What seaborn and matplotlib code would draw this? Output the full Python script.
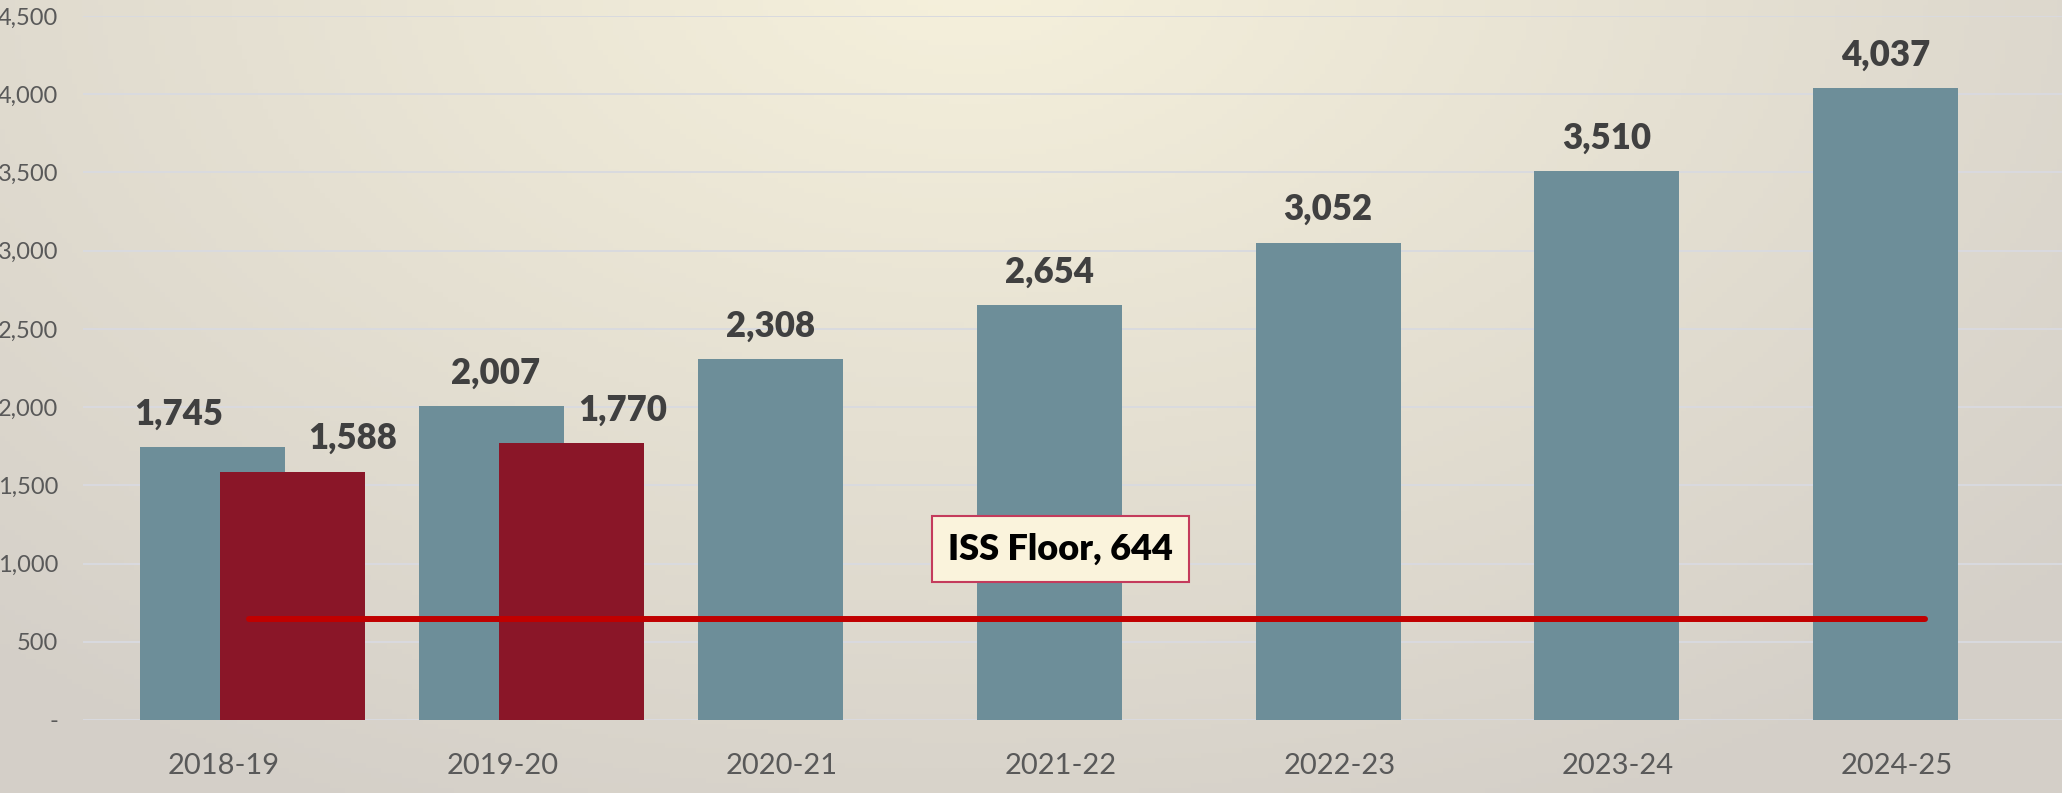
import numpy as np
import pandas as pd
import seaborn as sns
from matplotlib import pyplot as plt
from matplotlib.ticker import FuncFormatter

# chart values
years = ['2018-19', '2019-20', '2020-21', '2021-22', '2022-23', '2023-24', '2024-25']
projected = [1745, 2007, 2308, 2654, 3052, 3510, 4037]
actual = [1588, 1770]
iss_floor = 644

blue = '#6D8E99'
red = '#8A1628'
label_col = '#404040'
tick_col = '#595959'

sns.set_style('white')
plt.rcParams['font.family'] = ['Lato', 'DejaVu Sans']

fig = plt.figure(figsize=(20.62, 7.93), dpi=100)

# soft radial background
bg = fig.add_axes([0, 0, 1, 1], zorder=-10)
gx, gy = np.meshgrid(np.linspace(0, 1, 400), np.linspace(0, 1, 160))
d = np.sqrt(((gx - 0.47) / 0.72) ** 2 + ((gy - 1.05) / 1.2) ** 2)
d = np.clip(d, 0, 1)[..., None]
c_in = np.array([246, 241, 220]) / 255
c_out = np.array([212, 207, 200]) / 255
bg.imshow(c_in * (1 - d) + c_out * d, aspect='auto', origin='lower', extent=[0, 1, 0, 1])
bg.axis('off')

ax = fig.add_axes([83 / 2062, 1 - 720 / 793, 1 - 83 / 2062, (720 - 16) / 793])
ax.set_facecolor('none')

df = pd.DataFrame({'year': years, 'students': projected})
sns.barplot(data=df, x='year', y='students', order=years, color=blue, width=0.52,
            saturation=1, linewidth=0, ax=ax, zorder=2)

red_x = np.arange(len(actual)) + 0.287
ax.bar(red_x, actual, width=0.52, color=red, linewidth=0, zorder=3)

ax.plot([0.13, 6.14], [iss_floor, iss_floor], color='#C00000', lw=4.3,
        solid_capstyle='round', zorder=4)

# value labels
dx_blue = [-34, 4, 0, 0, 0, 0, 0]
for i, v in enumerate(projected):
    ax.annotate(f'{v:,}', (i, v), xytext=(dx_blue[i], 33), textcoords='offset pixels',
                ha='center', va='center', fontsize=25, fontweight='heavy', color=label_col)
dx_red = [60, 51]
for x, v, dx in zip(red_x, actual, dx_red):
    ax.annotate(f'{v:,}', (x, v), xytext=(dx, 33), textcoords='offset pixels',
                ha='center', va='center', fontsize=25, fontweight='heavy', color=label_col)

ax.text(3.04, 1093, f'ISS Floor, {iss_floor}', ha='center', va='center', fontsize=26,
        fontweight='heavy', color='black', zorder=6,
        bbox=dict(boxstyle='square,pad=0.45', facecolor='#FAF3DC', edgecolor='#C43B5C', lw=1.5))

ax.set_xlim(-0.466, 6.632)
ax.set_ylim(0, 4500)
ax.set_yticks(np.arange(0, 4501, 500))
ax.yaxis.set_major_formatter(FuncFormatter(lambda v, p: '-' if v == 0 else f'{v:,.0f}'))
ax.set_xticks(np.arange(len(years)) + 0.04, labels=years)
ax.set(xlabel='', ylabel='')
ax.grid(axis='y', color='#D9DADF', lw=1.4)
ax.set_axisbelow(True)
ax.tick_params(axis='both', length=0, labelcolor=tick_col)
ax.tick_params(axis='y', pad=18, labelsize=17)
ax.tick_params(axis='x', pad=24, labelsize=21)
sns.despine(ax=ax, left=True, bottom=True)

fig.savefig('out.png', dpi=100)
